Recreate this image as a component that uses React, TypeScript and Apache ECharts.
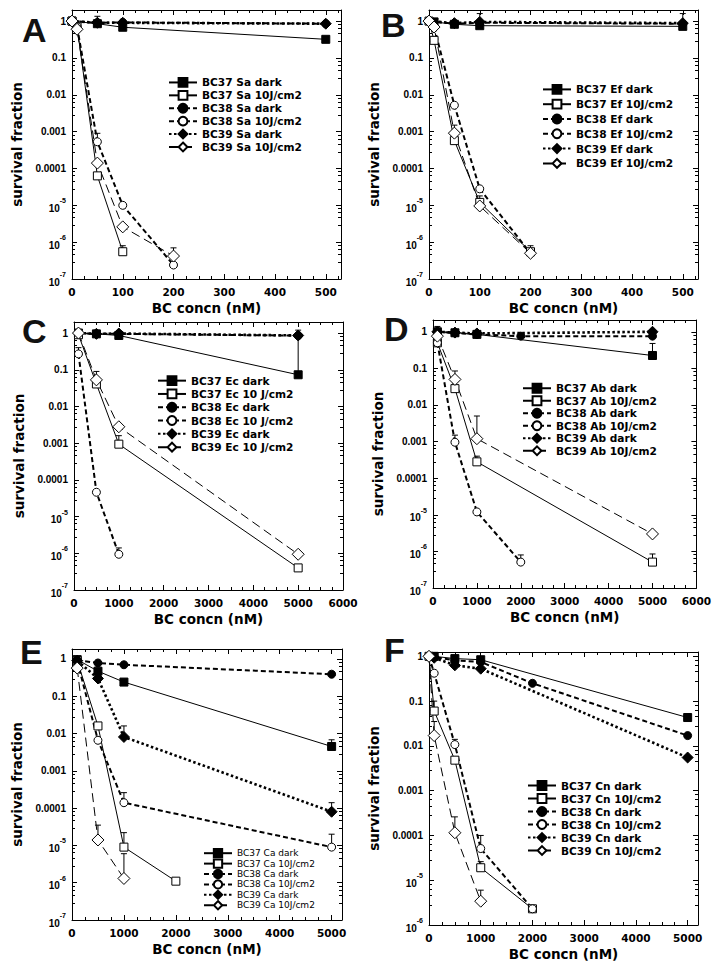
import React, { useEffect, useRef } from "react";
import * as echarts from "echarts";

// ---------- Panel A (Sa) ----------
const A_names = ["BC37 Sa dark", "BC37 Sa 10J/cm2", "BC38 Sa dark", "BC38 Sa 10J/cm2", "BC39 Sa dark", "BC39 Sa 10J/cm2"];
const A_37dark = [[0, 1], [50, 0.85], [100, 0.68], [500, 0.32]];
const A_37light = [[0, 1], [10, 0.7], [50, 6.3e-5], [100, 5.5e-7]];
const A_38dark = [[0, 1], [50, 0.9], [100, 0.92], [500, 0.85]];
const A_38light = [[0, 1], [10, 0.7], [50, 5.3e-4], [100, 1e-5], [200, 2.4e-7]];
const A_39dark = [[0, 1], [50, 0.9], [100, 0.9], [500, 0.85]];
const A_39light = [[0, 1], [10, 0.6], [50, 1.4e-4], [100, 2.6e-6], [200, 4.2e-7]];
const A_err = [[50, 0.9, 1.35], [50, 5.3e-4, 9e-4], [200, 4.2e-7, 7e-7], [100, 5.5e-7, 8e-7]];

// ---------- Panel B (Ef) ----------
const B_names = ["BC37 Ef dark", "BC37 Ef 10J/cm2", "BC38 Ef dark", "BC38 Ef 10J/cm2", "BC39 Ef dark", "BC39 Ef 10J/cm2"];
const B_37dark = [[10, 0.95], [50, 0.82], [100, 0.75], [500, 0.72]];
const B_37light = [[0, 1], [10, 0.3], [50, 5.7e-4], [100, 1.2e-5], [200, 5.5e-7]];
const B_38dark = [[0, 1], [50, 0.85], [100, 0.9], [500, 0.85]];
const B_38light = [[0, 1], [10, 0.7], [50, 5.2e-3], [100, 2.8e-5], [200, 5e-7]];
const B_39dark = [[0, 1], [50, 0.88], [100, 0.95], [500, 0.88]];
const B_39light = [[0, 1], [10, 0.69], [50, 9.1e-4], [100, 9.6e-6], [200, 5e-7]];
const B_err = [[100, 0.95, 1.6], [500, 0.88, 1.6], [50, 9.1e-4, 1.5e-3], [100, 1.2e-5, 1.8e-5], [200, 5e-7, 8e-7]];

// ---------- Panel C (Ec) ----------
const C_names = ["BC37 Ec dark", "BC37 Ec 10 J/cm2", "BC38 Ec dark", "BC38 Ec 10 J/cm2", "BC39 Ec dark", "BC39 Ec 10 J/cm2"];
const C_37dark = [[100, 1], [500, 0.95], [1000, 0.86], [5000, 0.073]];
const C_37light = [[100, 0.9], [500, 0.041], [1000, 9.4e-4], [5000, 4e-7]];
const C_38dark = [[100, 1], [500, 0.95], [1000, 0.95], [5000, 0.85]];
const C_38light = [[100, 0.27], [500, 4.6e-5], [1000, 9.4e-7]];
const C_39dark = [[100, 1], [500, 0.95], [1000, 0.97], [5000, 0.86]];
const C_39light = [[100, 1], [500, 0.053], [1000, 2.8e-3], [5000, 9.4e-7]];
const C_err = [[5000, 0.073, 0.85], [5000, 0.86, 1.2], [500, 0.053, 0.09], [1000, 9.4e-4, 1.6e-3], [1000, 9.4e-7, 1.4e-6], [100, 0.27, 0.4]];

// ---------- Panel D (Ab) ----------
const D_names = ["BC37 Ab dark", "BC37 Ab 10J/cm2", "BC38 Ab dark", "BC38 Ab 10J/cm2", "BC39 Ab dark", "BC39 Ab 10J/cm2"];
const D_37dark = [[100, 1], [500, 0.94], [1000, 0.85], [5000, 0.225]];
const D_37light = [[100, 0.5], [500, 0.028], [1000, 2.8e-4], [5000, 5.1e-7]];
const D_38dark = [[100, 1], [500, 0.93], [1000, 0.85], [2000, 0.76], [5000, 0.76]];
const D_38light = [[100, 0.5], [500, 9.6e-4], [1000, 1.2e-5], [2000, 5.1e-7]];
const D_39dark = [[100, 1], [500, 0.95], [1000, 0.9], [5000, 1.0]];
const D_39light = [[100, 0.76], [500, 0.05], [1000, 1.2e-3], [5000, 3e-6]];
const D_err = [[5000, 0.225, 0.48], [1000, 1.2e-3, 5e-3], [500, 0.05, 0.085], [1000, 2.8e-4, 4e-4], [5000, 5.1e-7, 8.5e-7], [2000, 5.1e-7, 8e-7], [100, 1, 1.4], [500, 9.6e-4, 1.5e-3]];

// ---------- Panel E (Ca) ----------
const E_names = ["BC37 Ca dark", "BC37 Ca 10J/cm2", "BC38 Ca dark", "BC38 Ca 10J/cm2", "BC39 Ca dark", "BC39 Ca 10J/cm2"];
const E_37dark = [[100, 0.96], [500, 0.47], [1000, 0.24], [5000, 0.0045]];
const E_37light = [[100, 0.9], [500, 0.016], [1000, 9e-6], [2000, 1.1e-6]];
const E_38dark = [[100, 0.92], [500, 0.78], [1000, 0.7], [5000, 0.39]];
const E_38light = [[100, 0.87], [500, 6.6e-3], [1000, 1.4e-4], [5000, 9e-6]];
const E_39dark = [[100, 0.9], [500, 0.3], [1000, 0.0081], [5000, 8e-5]];
const E_39light = [[100, 0.57], [500, 1.4e-5], [1000, 1.3e-6]];
const E_err = [[1000, 0.0081, 0.016], [5000, 8e-5, 1.4e-4], [5000, 0.0045, 0.0068], [5000, 9e-6, 2e-5], [1000, 9e-6, 2.2e-5], [1000, 1.3e-6, 6e-6], [1000, 1.4e-4, 2.6e-4], [500, 1.4e-5, 3.5e-5]];

// ---------- Panel F (Cn) ----------
const F_names = ["BC37 Cn dark", "BC37 Cn 10J/cm2", "BC38 Cn dark", "BC38 Cn 10J/cm2", "BC39 Cn dark", "BC39 Cn 10J/cm2"];
const F_37dark = [[100, 1], [500, 0.89], [1000, 0.84], [5000, 0.043]];
const F_37light = [[0, 1], [100, 0.06], [500, 0.0048], [1000, 1.9e-5], [2000, 2.3e-6]];
const F_38dark = [[0, 1], [100, 0.97], [500, 0.81], [1000, 0.75], [2000, 0.25], [5000, 0.017]];
const F_38light = [[0, 1], [100, 0.42], [500, 0.0107], [1000, 5.1e-5], [2000, 2.3e-6]];
const F_39dark = [[0, 1], [100, 0.93], [500, 0.63], [1000, 0.53], [5000, 0.0055]];
const F_39light = [[0, 1], [100, 0.017], [500, 1.15e-4], [1000, 3.4e-6]];
const F_err = [[1000, 5.1e-5, 1e-4], [500, 1.15e-4, 2.6e-4], [100, 0.06, 0.1], [100, 0.017, 0.035], [1000, 3.4e-6, 6e-6], [1000, 1.9e-5, 2.6e-5], [500, 0.0107, 0.014]];

// axis ranges / ticks
const X_MAX = [530, 530, 6000, 6000, 5200, 5200];
const X_INTERVAL = [100, 100, 1000, 1000, 1000, 1000];
const Y_MIN = [1e-7, 1e-7, 1e-7, 1e-7, 1e-7, 1e-6];
const Y_MAX = [2, 2, 2, 2.1, 1.85, 1.25];
const LETTERS = ["A", "B", "C", "D", "E", "F"];

const PANEL_SERIES = [
  [A_37dark, A_37light, A_38dark, A_38light, A_39dark, A_39light],
  [B_37dark, B_37light, B_38dark, B_38light, B_39dark, B_39light],
  [C_37dark, C_37light, C_38dark, C_38light, C_39dark, C_39light],
  [D_37dark, D_37light, D_38dark, D_38light, D_39dark, D_39light],
  [E_37dark, E_37light, E_38dark, E_38light, E_39dark, E_39light],
  [F_37dark, F_37light, F_38dark, F_38light, F_39dark, F_39light],
];
const PANEL_NAMES = [A_names, B_names, C_names, D_names, E_names, F_names];
const PANEL_ERR = [A_err, B_err, C_err, D_err, E_err, F_err];

// layout (pixels)
const GRIDS = [
  { left: 72, top: 10, width: 269, height: 269 },
  { left: 429, top: 10, width: 269, height: 269 },
  { left: 74, top: 322, width: 269, height: 268 },
  { left: 433, top: 320, width: 269, height: 268 },
  { left: 72, top: 649, width: 270, height: 271 },
  { left: 429, top: 652, width: 269, height: 273 },
];
const LEGENDS = [
  { left: 168, top: 76, lh: 12.9, fs: 10.6, fw: "bold" },
  { left: 542, top: 82, lh: 14.8, fs: 10.6, fw: "bold" },
  { left: 157, top: 374, lh: 13.3, fs: 10.6, fw: "bold" },
  { left: 522, top: 382, lh: 12.5, fs: 10.6, fw: "bold" },
  { left: 203, top: 848, lh: 10.4, fs: 9, fw: "normal" },
  { left: 527, top: 779, lh: 13, fs: 10.6, fw: "bold" },
];
const LETTER_POS = [
  [22, 30], [381, 25], [22, 331], [384, 329], [20, 652], [384, 650],
];

const STYLES = [
  { symbol: "rect", size: 8, fill: "#000", width: 1, type: "solid" as any },
  { symbol: "rect", size: 8, fill: "#fff", width: 1, type: "solid" as any },
  { symbol: "circle", size: 8, fill: "#000", width: 2, type: [5, 3] as any },
  { symbol: "circle", size: 8, fill: "#fff", width: 2, type: [5, 3] as any },
  { symbol: "diamond", size: 11, fill: "#000", width: 2.6, type: [2.5, 2.5] as any },
  { symbol: "diamond", size: 12, fill: "#fff", width: 1, type: [9, 5] as any },
];

function yLabel(v: number): string {
  const e = Math.log10(v);
  const r = Math.round(e);
  if (Math.abs(e - r) > 0.01) return "";
  if (r === 0) return "1";
  if (r >= -4) return "0." + "0".repeat(-r - 1) + "1";
  return "{b|10}{s|" + String(r) + "}";
}

function buildOption() {
  const grid: any[] = [];
  const xAxis: any[] = [];
  const yAxis: any[] = [];
  const series: any[] = [];
  const legend: any[] = [];
  const graphic: any[] = [];

  for (let p = 0; p < 6; p++) {
    const g = GRIDS[p];
    grid.push({ left: g.left, top: g.top, width: g.width, height: g.height, containLabel: false });
    const interval = X_INTERVAL[p];
    const xCommon = {
      gridIndex: p,
      type: "value",
      min: 0,
      max: X_MAX[p],
      interval,
      axisLine: { show: true, onZero: false, lineStyle: { color: "#000", width: 1 } },
      axisTick: { show: true, inside: true, length: 5, lineStyle: { color: "#000" } },
      minorTick: { show: true, splitNumber: 4, length: 3, lineStyle: { color: "#000" } },
      splitLine: { show: false },
    };
    xAxis.push({
      ...xCommon,
      position: "bottom",
      name: "BC concn (nM)",
      nameLocation: "middle",
      nameGap: 22,
      nameTextStyle: { fontFamily: "DejaVu Sans", fontWeight: "bold", fontSize: 13.5, color: "#000" },
      axisLabel: {
        show: true,
        margin: 7,
        fontFamily: "DejaVu Sans",
        fontWeight: "bold",
        fontSize: 10.5,
        color: "#000",
        formatter: (v: number) => (Math.abs(v % interval) < 1e-6 ? String(v) : ""),
      },
    });
    xAxis.push({ ...xCommon, position: "top", axisLabel: { show: false } });

    const yCommon = {
      gridIndex: p,
      type: "log",
      logBase: 10,
      min: Y_MIN[p],
      max: Y_MAX[p],
      splitNumber: 10,
      axisLine: { show: true, onZero: false, lineStyle: { color: "#000", width: 1 } },
      axisTick: { show: true, inside: true, length: 5, lineStyle: { color: "#000" } },
      minorTick: { show: true, splitNumber: 5, length: 3, lineStyle: { color: "#000" } },
      splitLine: { show: false },
    };
    yAxis.push({
      ...yCommon,
      position: "left",
      name: "survival fraction",
      nameLocation: "middle",
      nameGap: 48,
      nameTextStyle: { fontFamily: "DejaVu Sans", fontWeight: "bold", fontSize: 13.5, color: "#000" },
      axisLabel: {
        show: true,
        margin: 6,
        fontFamily: "Liberation Sans",
        fontWeight: "bold",
        fontSize: 10,
        color: "#000",
        formatter: yLabel,
        rich: {
          b: { fontFamily: "Liberation Sans", fontWeight: "bold", fontSize: 10, color: "#000", lineHeight: 16, verticalAlign: "bottom" },
          s: { fontFamily: "Liberation Sans", fontWeight: "bold", fontSize: 7, color: "#000", lineHeight: 7, verticalAlign: "top" },
        },
      },
    });
    yAxis.push({ ...yCommon, position: "right", axisLabel: { show: false } });

    const names = PANEL_NAMES[p];
    PANEL_SERIES[p].forEach((data, k) => {
      const st = STYLES[k];
      series.push({
        type: "line",
        name: names[k],
        xAxisIndex: 2 * p,
        yAxisIndex: 2 * p,
        data,
        symbol: st.symbol,
        symbolSize: st.size,
        showSymbol: true,
        z: 3,
        itemStyle: { color: st.fill, borderColor: "#000", borderWidth: 1 },
        lineStyle: { color: "#000", width: st.width, type: st.type },
        emphasis: { disabled: true },
      });
    });
    series.push({
      type: "custom",
      xAxisIndex: 2 * p,
      yAxisIndex: 2 * p,
      z: 2,
      silent: true,
      data: PANEL_ERR[p],
      encode: { x: 0, y: [1, 2] },
      renderItem: (params: any, api: any) => {
        const x = api.value(0);
        const lo = api.value(1);
        const hi = api.value(2);
        const a = api.coord([x, lo]);
        const b = api.coord([x, hi]);
        return {
          type: "group",
          children: [
            { type: "line", shape: { x1: a[0], y1: a[1], x2: b[0], y2: b[1] }, style: { stroke: "#000", lineWidth: 1 } },
            { type: "line", shape: { x1: b[0] - 3, y1: b[1], x2: b[0] + 3, y2: b[1] }, style: { stroke: "#000", lineWidth: 1 } },
          ],
        };
      },
    });

    const L = LEGENDS[p];
    legend.push({
      data: names,
      orient: "vertical",
      left: L.left,
      top: L.top,
      padding: 0,
      itemGap: 0,
      itemWidth: 28,
      itemHeight: Math.min(11, L.lh),
      selectedMode: false,
      textStyle: {
        fontFamily: "DejaVu Sans",
        fontWeight: L.fw,
        fontSize: L.fs,
        lineHeight: L.lh,
        color: "#000",
      },
    });

    graphic.push({
      type: "text",
      left: LETTER_POS[p][0],
      top: LETTER_POS[p][1] - 17,
      style: {
        text: LETTERS[p],
        font: "bold 34px 'Liberation Sans', Arial, sans-serif",
        fill: "#111",
      },
    });
  }

  return {
    animation: false,
    backgroundColor: "#fff",
    grid,
    xAxis,
    yAxis,
    series,
    legend,
    graphic,
  };
}

export default function App() {
  const ref = useRef<HTMLDivElement>(null);
  useEffect(() => {
    if (!ref.current) return;
    const chart = echarts.init(ref.current, undefined, { renderer: "svg" });
    chart.setOption(buildOption() as any);
    return () => chart.dispose();
  }, []);
  return (
    <div
      ref={ref}
      style={{ position: "absolute", left: 0, top: 0, width: 714, height: 973, background: "#fff" }}
    />
  );
}
